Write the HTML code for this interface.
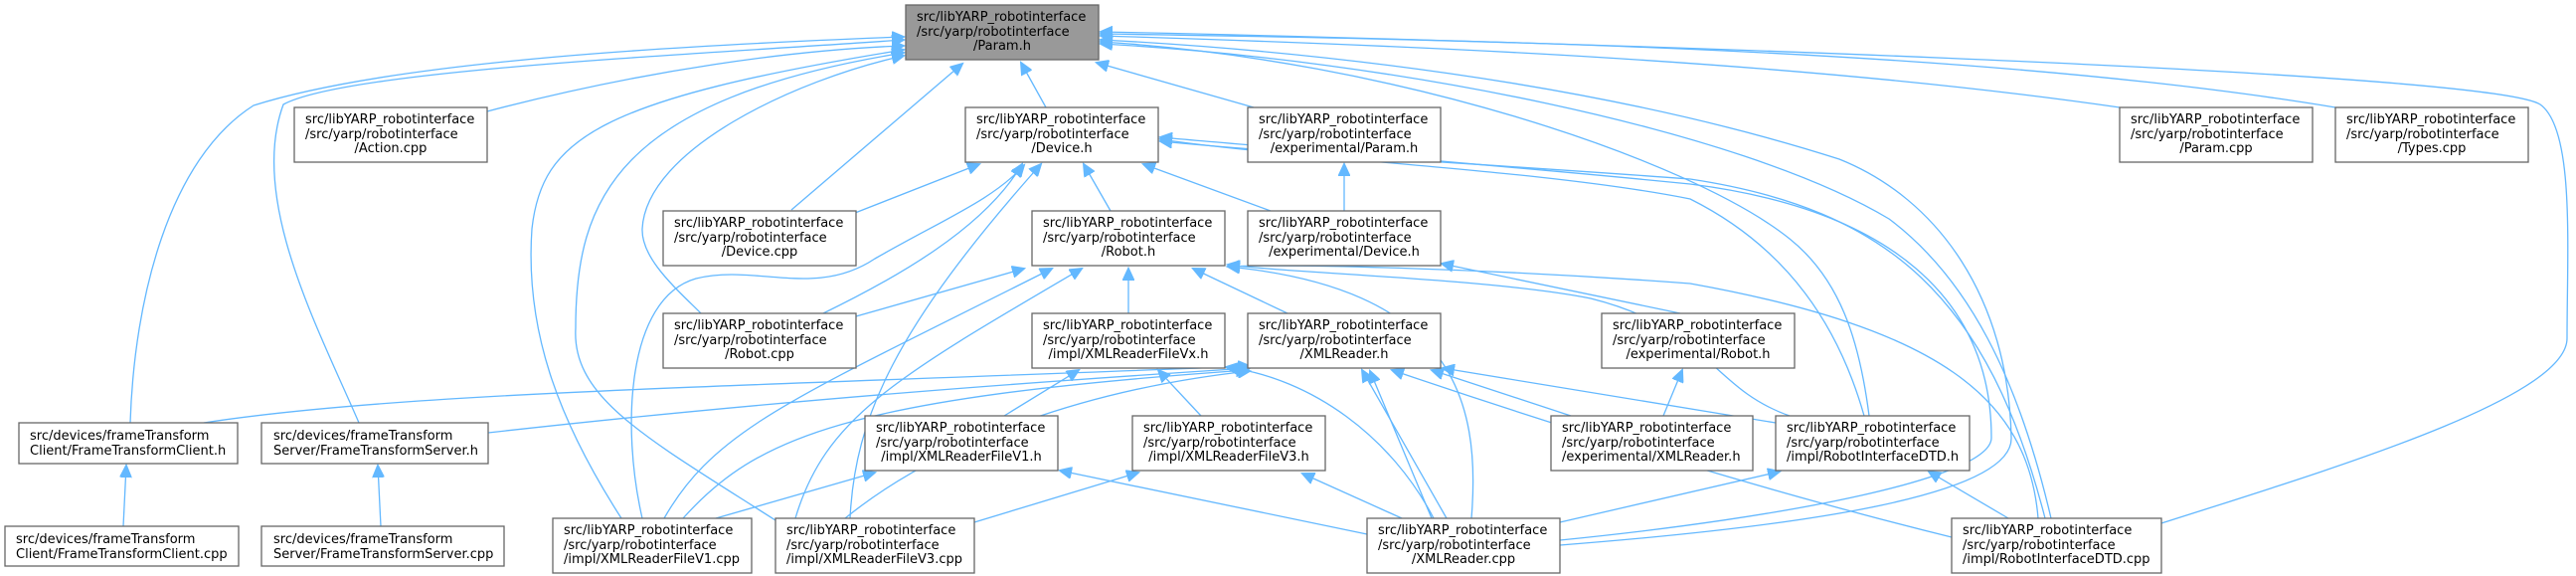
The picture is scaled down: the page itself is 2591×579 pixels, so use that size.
<!DOCTYPE html>
<html><head><meta charset="utf-8"><style>
html,body{margin:0;padding:0;background:#fff;}
svg{display:block;}
text{font-family:"DejaVu Sans","Liberation Sans",sans-serif;font-size:13px;fill:#000;}
.e{fill:none;stroke:#63b8ff;stroke-width:1.3;}
.b{fill:#fff;stroke:#666;stroke-width:1.3;}
</style></head><body>
<svg width="2591" height="579" viewBox="0 0 2591 579" xmlns="http://www.w3.org/2000/svg">
<defs><marker id="a" markerUnits="userSpaceOnUse" markerWidth="14" markerHeight="12" refX="12" refY="6" orient="auto"><path d="M0,0 L13,6 L0,12 z" fill="#63b8ff" stroke="#63b8ff"/></marker></defs>
<g class="e" marker-end="url(#a)">
<path d="M131,425 C135,300 170,160 255,106 C400,60 700,45 909,37"/>
<path d="M361,425 C320,330 250,200 285,105 C350,70 700,55 909,40"/>
<path d="M490,112 C650,70 800,50 909,46"/>
<path d="M625,521 C560,420 528,330 535,230 C545,140 600,100 909,50"/>
<path d="M780,523 C650,440 575,400 579,330 C579,200 620,100 909,53"/>
<path d="M705,315 C680,290 645,260 646,230 C650,150 800,80 909,56"/>
<path d="M796,211 L968,64"/>
<path d="M1052,108 L1027,63"/>
<path d="M1261,108 L1103,63"/>
<path d="M2132,108 C1800,60 1400,45 1107,36"/>
<path d="M2349,108 C2000,50 1500,40 1107,34"/>
<path d="M2174,526 C2350,470 2582,400 2582,340 C2582,250 2590,130 2555,105 C2500,70 1500,40 1107,32"/>
<path d="M1569,548 C1800,530 2025,500 2023,440 C2020,300 1950,200 1850,160 C1600,80 1300,50 1107,40"/>
<path d="M1880,418 C1870,340 1850,280 1800,240 C1700,160 1400,60 1107,42"/>
<path d="M2063,521 C2030,380 1980,280 1900,220 C1750,130 1400,60 1107,44"/>
<path d="M860,214 L985,165"/>
<path d="M828,315 C900,280 990,230 1028,165"/>
<path d="M646,521 C625,430 630,300 700,280 C760,265 820,300 880,260 C950,220 1000,200 1030,166"/>
<path d="M855,521 C860,420 900,330 1047,165"/>
<path d="M1117,212 L1090,165"/>
<path d="M1278,212 L1150,165"/>
<path d="M1875,418 C1850,330 1800,250 1700,200 C1550,170 1300,160 1167,140"/>
<path d="M2057,521 C2000,300 1900,210 1700,180 C1500,165 1300,155 1167,142"/>
<path d="M1569,543 C1800,520 2003,480 2003,440 C2003,300 1900,210 1700,185 C1500,165 1300,150 1167,138"/>
<path d="M861,318 L1030,270"/>
<path d="M668,521 C720,430 800,400 1058,270"/>
<path d="M800,521 C830,420 900,380 1088,270"/>
<path d="M1135,315 L1135,270"/>
<path d="M1295,315 L1200,270"/>
<path d="M1480,521 C1490,400 1460,290 1235,268"/>
<path d="M1800,418 C1720,390 1720,330 1600,300 C1500,280 1300,275 1235,266"/>
<path d="M2050,521 C2040,400 1950,330 1700,285 C1500,270 1300,265 1235,268"/>
<path d="M1352,212 L1352,165"/>
<path d="M1690,315 L1450,265"/>
<path d="M1673,418 L1692,372"/>
<path d="M1010,418 L1085,372"/>
<path d="M1208,418 L1165,372"/>
<path d="M1442,521 C1400,440 1320,380 1233,369"/>
<path d="M205,425 C400,395 700,390 1257,368"/>
<path d="M491,435 C800,400 1100,380 1257,370"/>
<path d="M687,521 C760,440 850,400 1255,372"/>
<path d="M850,521 C950,440 1100,390 1257,373"/>
<path d="M1455,521 L1370,372"/>
<path d="M1440,521 L1378,373"/>
<path d="M1580,418 L1440,372"/>
<path d="M1786,425 L1451,370"/>
<path d="M1963,540 C1800,500 1600,440 1400,372"/>
<path d="M720,521 L880,475"/>
<path d="M1375,537 L1066,473"/>
<path d="M980,525 L1145,475"/>
<path d="M1410,521 L1310,476"/>
<path d="M1569,525 L1790,474"/>
<path d="M2020,521 L1940,474"/>
<path d="M124,529 L127,468"/>
<path d="M383,529 L380,468"/>
</g>
<rect x="911" y="5" width="194" height="55" fill="#999" stroke="#666" stroke-width="1.3"/>
<text x="922" y="21">src/libYARP_robotinterface</text><text x="922" y="36">/src/yarp/robotinterface</text><text x="1008" y="50" text-anchor="middle">/Param.h</text>
<g>
<rect class="b" x="296" y="108" width="194" height="55"/><text x="307" y="124">src/libYARP_robotinterface</text><text x="307" y="139">/src/yarp/robotinterface</text><text x="393" y="153" text-anchor="middle">/Action.cpp</text>
<rect class="b" x="971" y="108" width="194" height="55"/><text x="982" y="124">src/libYARP_robotinterface</text><text x="982" y="139">/src/yarp/robotinterface</text><text x="1068" y="153" text-anchor="middle">/Device.h</text>
<rect class="b" x="1255" y="108" width="194" height="55"/><text x="1266" y="124">src/libYARP_robotinterface</text><text x="1266" y="139">/src/yarp/robotinterface</text><text x="1352" y="153" text-anchor="middle">/experimental/Param.h</text>
<rect class="b" x="2132" y="108" width="194" height="55"/><text x="2143" y="124">src/libYARP_robotinterface</text><text x="2143" y="139">/src/yarp/robotinterface</text><text x="2229" y="153" text-anchor="middle">/Param.cpp</text>
<rect class="b" x="2349" y="108" width="194" height="55"/><text x="2360" y="124">src/libYARP_robotinterface</text><text x="2360" y="139">/src/yarp/robotinterface</text><text x="2446" y="153" text-anchor="middle">/Types.cpp</text>
<rect class="b" x="667" y="212" width="194" height="55"/><text x="678" y="228">src/libYARP_robotinterface</text><text x="678" y="243">/src/yarp/robotinterface</text><text x="764" y="257" text-anchor="middle">/Device.cpp</text>
<rect class="b" x="1038" y="212" width="194" height="55"/><text x="1049" y="228">src/libYARP_robotinterface</text><text x="1049" y="243">/src/yarp/robotinterface</text><text x="1135" y="257" text-anchor="middle">/Robot.h</text>
<rect class="b" x="1255" y="212" width="194" height="55"/><text x="1266" y="228">src/libYARP_robotinterface</text><text x="1266" y="243">/src/yarp/robotinterface</text><text x="1352" y="257" text-anchor="middle">/experimental/Device.h</text>
<rect class="b" x="667" y="315" width="194" height="55"/><text x="678" y="331">src/libYARP_robotinterface</text><text x="678" y="346">/src/yarp/robotinterface</text><text x="764" y="360" text-anchor="middle">/Robot.cpp</text>
<rect class="b" x="1038" y="315" width="194" height="55"/><text x="1049" y="331">src/libYARP_robotinterface</text><text x="1049" y="346">/src/yarp/robotinterface</text><text x="1135" y="360" text-anchor="middle">/impl/XMLReaderFileVx.h</text>
<rect class="b" x="1255" y="315" width="194" height="55"/><text x="1266" y="331">src/libYARP_robotinterface</text><text x="1266" y="346">/src/yarp/robotinterface</text><text x="1352" y="360" text-anchor="middle">/XMLReader.h</text>
<rect class="b" x="1611" y="315" width="194" height="55"/><text x="1622" y="331">src/libYARP_robotinterface</text><text x="1622" y="346">/src/yarp/robotinterface</text><text x="1708" y="360" text-anchor="middle">/experimental/Robot.h</text>
<rect class="b" x="19" y="425" width="220" height="41"/><text x="30" y="442">src/devices/frameTransform</text><text x="30" y="457">Client/FrameTransformClient.h</text>
<rect class="b" x="263" y="425" width="228" height="41"/><text x="275" y="442">src/devices/frameTransform</text><text x="275" y="457">Server/FrameTransformServer.h</text>
<rect class="b" x="870" y="418" width="194" height="55"/><text x="881" y="434">src/libYARP_robotinterface</text><text x="881" y="449">/src/yarp/robotinterface</text><text x="967" y="463" text-anchor="middle">/impl/XMLReaderFileV1.h</text>
<rect class="b" x="1139" y="418" width="194" height="55"/><text x="1150" y="434">src/libYARP_robotinterface</text><text x="1150" y="449">/src/yarp/robotinterface</text><text x="1236" y="463" text-anchor="middle">/impl/XMLReaderFileV3.h</text>
<rect class="b" x="1560" y="418" width="203" height="55"/><text x="1571" y="434">src/libYARP_robotinterface</text><text x="1571" y="449">/src/yarp/robotinterface</text><text x="1571" y="463">/experimental/XMLReader.h</text>
<rect class="b" x="1786" y="418" width="195" height="55"/><text x="1797" y="434">src/libYARP_robotinterface</text><text x="1797" y="449">/src/yarp/robotinterface</text><text x="1797" y="463">/impl/RobotInterfaceDTD.h</text>
<rect class="b" x="5" y="529" width="235" height="40"/><text x="16" y="546">src/devices/frameTransform</text><text x="16" y="561">Client/FrameTransformClient.cpp</text>
<rect class="b" x="263" y="529" width="244" height="40"/><text x="275" y="546">src/devices/frameTransform</text><text x="275" y="561">Server/FrameTransformServer.cpp</text>
<rect class="b" x="556" y="521" width="200" height="55"/><text x="567" y="537">src/libYARP_robotinterface</text><text x="567" y="552">/src/yarp/robotinterface</text><text x="567" y="566">/impl/XMLReaderFileV1.cpp</text>
<rect class="b" x="780" y="521" width="200" height="55"/><text x="791" y="537">src/libYARP_robotinterface</text><text x="791" y="552">/src/yarp/robotinterface</text><text x="791" y="566">/impl/XMLReaderFileV3.cpp</text>
<rect class="b" x="1375" y="521" width="194" height="55"/><text x="1386" y="537">src/libYARP_robotinterface</text><text x="1386" y="552">/src/yarp/robotinterface</text><text x="1472" y="566" text-anchor="middle">/XMLReader.cpp</text>
<rect class="b" x="1963" y="521" width="211" height="55"/><text x="1974" y="537">src/libYARP_robotinterface</text><text x="1974" y="552">/src/yarp/robotinterface</text><text x="1974" y="566">/impl/RobotInterfaceDTD.cpp</text>
</g>
</svg>
</body></html>
